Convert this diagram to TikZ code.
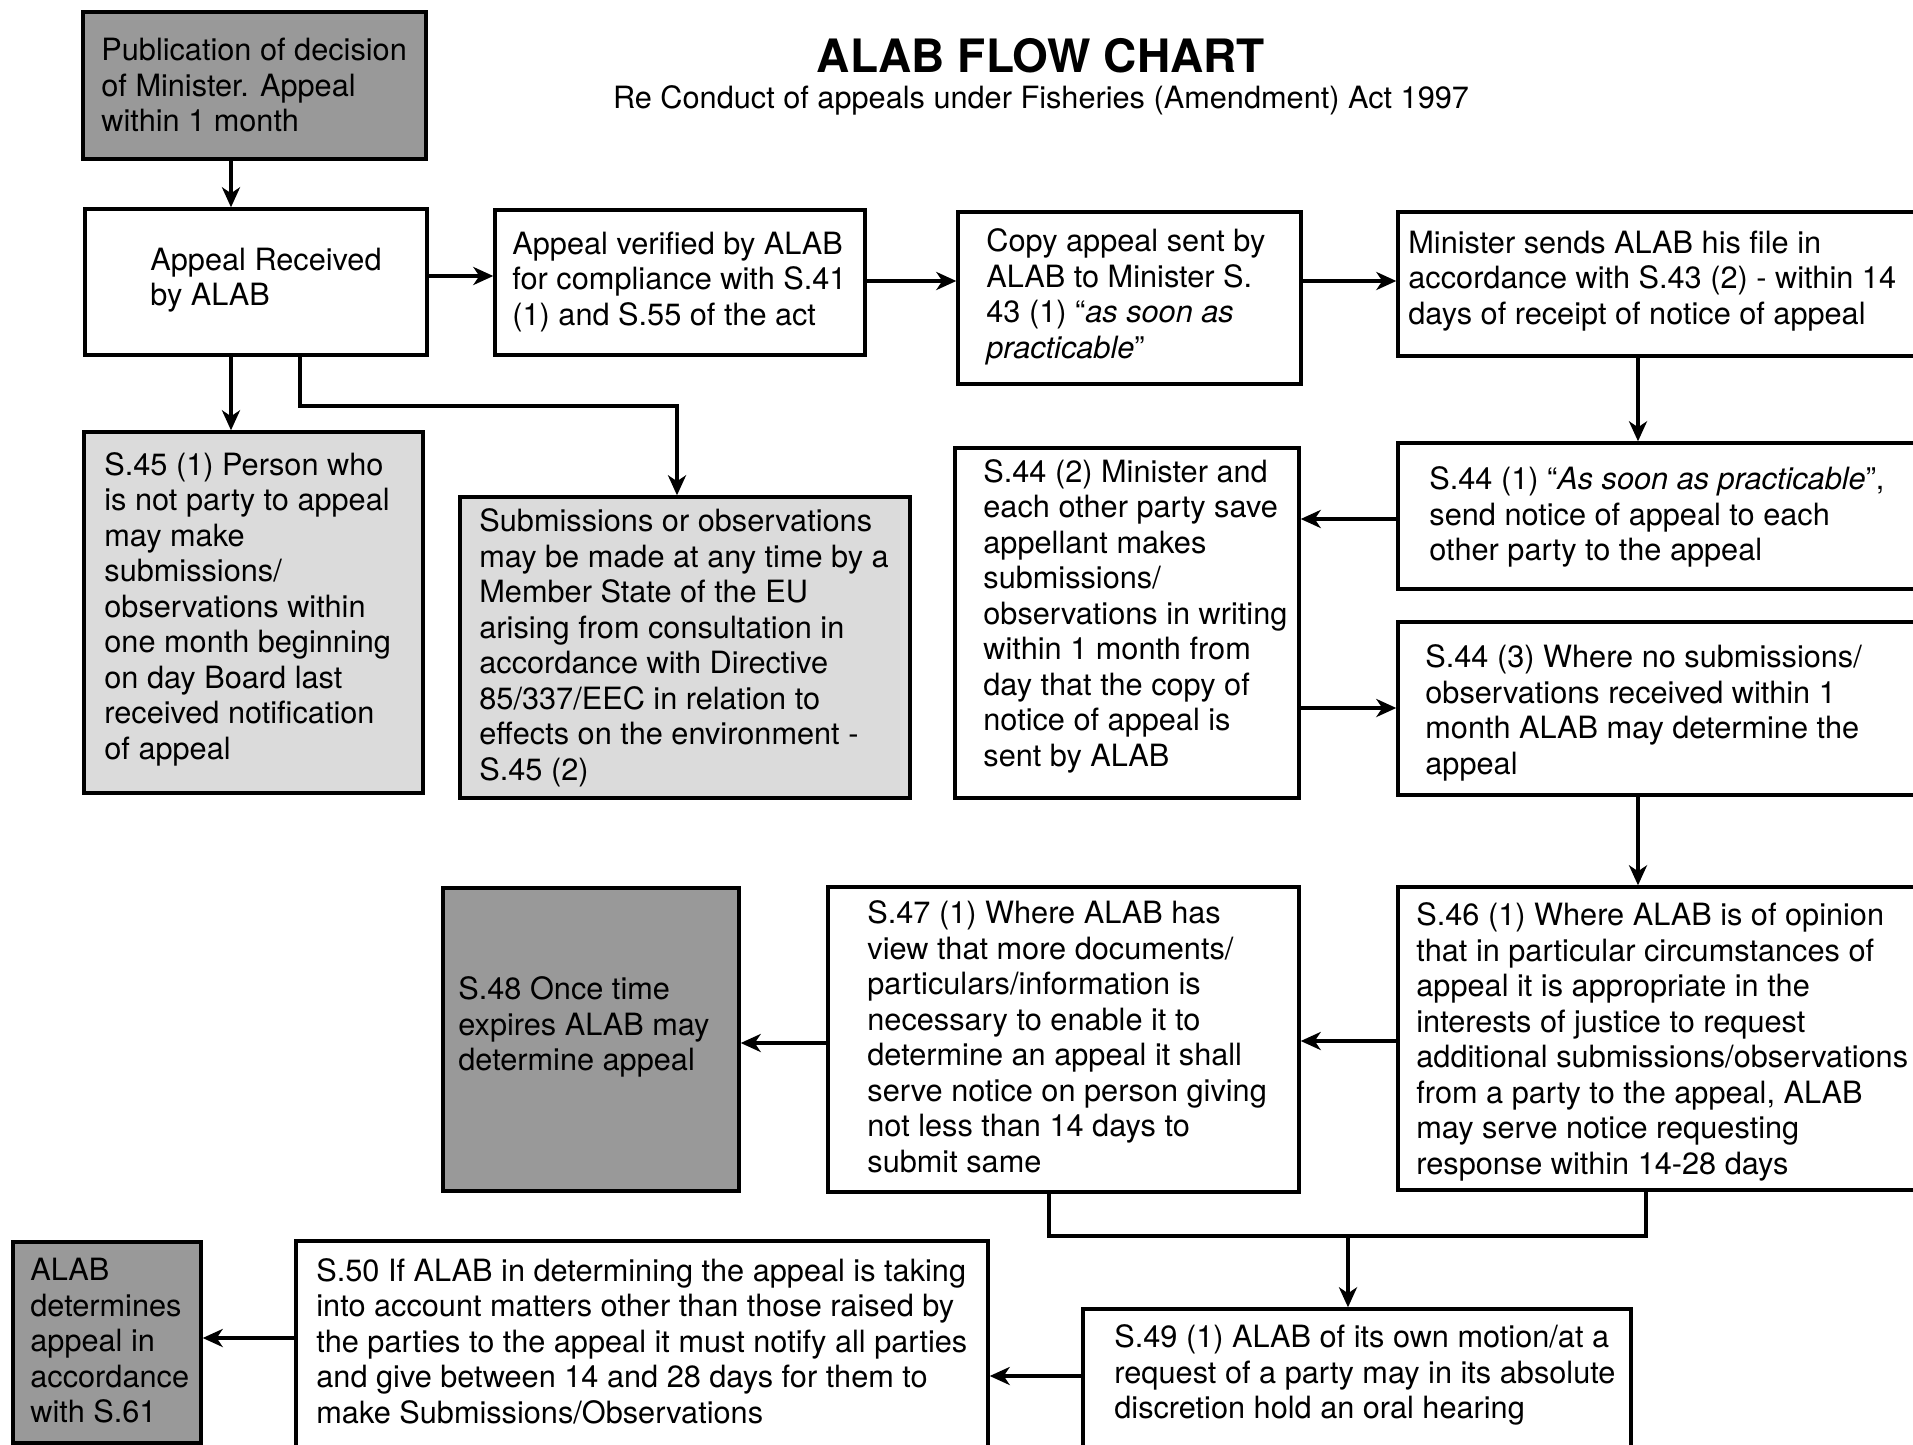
\documentclass[tikz,border=0pt]{standalone}
\usepackage{fontspec}
\setmainfont{TeX Gyre Heros}
\usetikzlibrary{arrows.meta,fit}
\tikzset{
  bx/.style={draw=black, line width=1.7pt, inner sep=0pt, rectangle},
  darkbox/.style={bx, fill=black!40},
  lightbox/.style={bx, fill=black!14},
  plainbox/.style={bx, fill=white},
  txt/.style={anchor=west, align=left, inner sep=0pt, font=\fontsize{15.35pt}{17.75pt}\selectfont},
  arr/.style={line width=1.7pt, -{Stealth[length=10pt,width=9pt,inset=3pt]}},
  ln/.style={line width=2.1pt},
}
\newcommand{\mkbox}[6]{\node[#6, fit={(#2,#3) (#4,#5)}] (#1) {};}
\begin{document}
\begin{tikzpicture}[x=0.5pt,y=-0.5pt]
\useasboundingbox (0,0) rectangle (1913,1445);
\clip (0,0) rectangle (1913,1445);
\fill[white] (0,0) rectangle (1913,1445);

% title
\node[font=\fontsize{23pt}{27pt}\selectfont\bfseries, anchor=base, inner sep=0pt] (title) at (1041,73) {ALAB FLOW CHART};
\node[txt, anchor=base] (subtitle) at (1041,109) {Re Conduct of appeals under Fisheries (Amendment) Act 1997};

% boxes
\mkbox{A}{83}{12}{426}{159}{darkbox}
\mkbox{B}{85}{209}{427}{355}{plainbox}
\mkbox{E}{495}{210}{865}{355}{plainbox}
\mkbox{F}{958}{212}{1301}{384}{plainbox}
\mkbox{G}{1398}{212}{1930}{356}{plainbox}
\mkbox{C}{84}{432}{423}{793}{lightbox}
\mkbox{D}{460}{497}{910}{798}{lightbox}
\mkbox{I}{955}{448}{1299}{798}{plainbox}
\mkbox{H}{1398}{443}{1930}{589}{plainbox}
\mkbox{J}{1398}{622}{1930}{795}{plainbox}
\mkbox{L}{443}{888}{739}{1191}{darkbox}
\mkbox{M}{828}{887}{1299}{1192}{plainbox}
\mkbox{K}{1398}{887}{1930}{1190}{plainbox}
\mkbox{N}{13}{1242}{201}{1443}{darkbox}
\mkbox{O}{296}{1241}{988}{1460}{plainbox}
\mkbox{P}{1083}{1309}{1631}{1460}{plainbox}

% texts
\node[txt] (tA) at (101,85) {Publication of decision\\of Minister. Appeal\\within 1 month};
\node[txt] (tB) at (150,280) {Appeal Received\\by ALAB};
\node[txt] (tE) at (512,282) {Appeal verified by ALAB\\for compliance with S.41\\(1) and S.55 of the act};
\node[txt] (tF) at (986,297) {Copy appeal sent by\\ALAB to Minister S.\\43 (1) “\textit{as soon as}\\\textit{practicable}”};
\node[txt] (tG) at (1408,281) {Minister sends ALAB his file in\\accordance with S.43 (2) - within 14\\days of receipt of notice of appeal};
\node[txt] (tC) at (104,609) {S.45 (1) Person who\\is not party to appeal\\may make\\submissions/\\observations within\\one month beginning\\on day Board last\\received notification\\of appeal};
\node[txt] (tD) at (479,648) {Submissions or observations\\may be made at any time by a\\Member State of the EU\\arising from consultation in\\accordance with Directive\\85/337/EEC in relation to\\effects on the environment -\\S.45 (2)};
\node[txt] (tI) at (983,616) {S.44 (2) Minister and\\each other party save\\appellant makes\\submissions/\\observations in writing\\within 1 month from\\day that the copy of\\notice of appeal is\\sent by ALAB};
\node[txt] (tH) at (1429,517) {S.44 (1) “\textit{As soon as practicable}”,\\send notice of appeal to each\\other party to the appeal};
\node[txt] (tJ) at (1425,713) {S.44 (3) Where no submissions/\\observations received within 1\\month ALAB may determine the\\appeal};
\node[txt] (tL) at (458,1027) {S.48 Once time\\expires ALAB may\\determine appeal};
\node[txt] (tM) at (867,1037) {S.47 (1) Where ALAB has\\view that more documents/\\particulars/information is\\necessary to enable it to\\determine an appeal it shall\\serve notice on person giving\\not less than 14 days to\\submit same};
\node[txt] (tK) at (1416,1042) {S.46 (1) Where ALAB is of opinion\\that in particular circumstances of\\appeal it is appropriate in the\\interests of justice to request\\additional submissions/observations\\from a party to the appeal, ALAB\\may serve notice requesting\\response within 14-28 days};
\node[txt] (tN) at (30,1341) {ALAB\\determines\\appeal in\\accordance\\with S.61};
\node[txt] (tO) at (316,1341) {S.50 If ALAB in determining the appeal is taking\\into account matters other than those raised by\\the parties to the appeal it must notify all parties\\and give between 14 and 28 days for them to\\make Submissions/Observations};
\node[txt] (tP) at (1114,1375) {S.49 (1) ALAB of its own motion/at a\\request of a party may in its absolute\\discretion hold an oral hearing};

% helper coordinates for connector positions
\coordinate (v231) at (231,0);
\coordinate (v1638) at (1638,0);
\coordinate (h276) at (0,276);
\coordinate (h281) at (0,281);
\coordinate (h519) at (0,519);
\coordinate (h708) at (0,708);
\coordinate (h1041) at (0,1041);
\coordinate (h1043) at (0,1043);
\coordinate (h1338) at (0,1338);
\coordinate (h1376) at (0,1376);
\coordinate (bdl) at (300,406);
\coordinate (bdr) at (677,406);
\coordinate (mgl) at (1049,1236);
\coordinate (mgr) at (1646,1236);
\coordinate (mgc) at (1348,1236);

% connectors
\draw[arr] (A.south -| v231) -- (B.north -| v231);
\draw[arr] (B.east |- h276) -- (E.west |- h276);
\draw[arr] (E.east |- h281) -- (F.west |- h281);
\draw[arr] (F.east |- h281) -- (G.west |- h281);
\draw[arr] (G.south -| v1638) -- (H.north -| v1638);
\draw[arr] (B.south -| v231) -- (C.north -| v231);
\draw[arr] (B.south -| bdl) -- (bdl) -- (bdr) -- (D.north -| bdr);
\draw[arr] (H.west |- h519) -- (I.east |- h519);
\draw[arr] (I.east |- h708) -- (J.west |- h708);
\draw[arr] (J.south -| v1638) -- (K.north -| v1638);
\draw[arr] (K.west |- h1041) -- (M.east |- h1041);
\draw[arr] (M.west |- h1043) -- (L.east |- h1043);
\draw[ln] (M.south -| mgl) -- (mgl) -- (mgr) -- (K.south -| mgr);
\draw[arr] (mgc) -- (P.north -| mgc);
\draw[arr] (P.west |- h1376) -- (O.east |- h1376);
\draw[arr] (O.west |- h1338) -- (N.east |- h1338);
\end{tikzpicture}
\end{document}
